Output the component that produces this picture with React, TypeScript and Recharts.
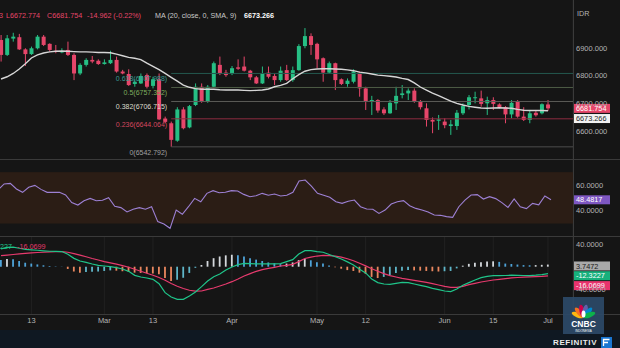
import React from "react";
import {
  ComposedChart,
  Bar,
  Line,
  XAxis,
  YAxis,
  CartesianGrid,
  ReferenceLine,
  ReferenceArea,
  Cell,
} from "recharts";

// daily candles, early Feb -> early Jul
const OPEN = [
  6929, 6875, 6934, 6939, 6895, 6878, 6899, 6941, 6915, 6890, 6884, 6893, 6875, 6808, 6839, 6857,
  6854, 6842, 6845, 6857, 6815, 6806, 6770, 6772, 6802, 6763, 6787, 6645, 6628, 6565, 6678, 6613,
  6694, 6760, 6706, 6760, 6839, 6811, 6806, 6830, 6833, 6818, 6794, 6772, 6811, 6799, 6784, 6820,
  6784, 6820, 6907, 6943, 6915, 6863, 6811, 6845, 6787, 6770, 6778, 6811, 6754, 6706, 6712, 6678,
  6664, 6700, 6730, 6736, 6746, 6706, 6682, 6640, 6637, 6634, 6618, 6618, 6664, 6694, 6719, 6718,
  6700, 6712, 6696, 6686, 6660, 6706, 6652, 6640, 6666, 6664, 6696,
];
const HIGH = [
  6947, 6947, 6955, 6951, 6899, 6905, 6947, 6947, 6917, 6911, 6899, 6923, 6881, 6845, 6863, 6871,
  6859, 6859, 6890, 6869, 6821, 6823, 6787, 6808, 6808, 6796, 6808, 6652, 6634, 6686, 6686, 6694,
  6772, 6772, 6766, 6851, 6869, 6821, 6835, 6859, 6869, 6821, 6799, 6833, 6833, 6808, 6833, 6839,
  6833, 6914, 6972, 6953, 6919, 6866, 6851, 6847, 6790, 6790, 6823, 6815, 6760, 6727, 6715, 6686,
  6712, 6760, 6766, 6754, 6754, 6712, 6700, 6649, 6658, 6646, 6640, 6676, 6700, 6730, 6742, 6746,
  6724, 6722, 6700, 6690, 6712, 6712, 6686, 6676, 6676, 6700, 6711.973,
];
const LOW = [
  6851, 6871, 6923, 6893, 6835, 6875, 6895, 6907, 6887, 6881, 6881, 6871, 6784, 6802, 6833, 6845,
  6839, 6840, 6842, 6811, 6805, 6763, 6760, 6770, 6754, 6754, 6640, 6628, 6542.792, 6561, 6606, 6610,
  6690, 6702, 6702, 6757, 6802, 6796, 6802, 6821, 6815, 6784, 6770, 6770, 6790, 6766, 6778, 6781,
  6778, 6818, 6899, 6875, 6827, 6778, 6806, 6748, 6766, 6760, 6772, 6724, 6676, 6658, 6666, 6658,
  6662, 6676, 6718, 6712, 6702, 6678, 6616, 6592, 6604, 6610, 6586, 6604, 6658, 6678, 6700, 6688,
  6658, 6676, 6682, 6628, 6646, 6648, 6636, 6628, 6652, 6660, 6672.774,
];
const CLOSE = [
  6875, 6935, 6941, 6895, 6878, 6899, 6941, 6911, 6893, 6888, 6889, 6875, 6808, 6839, 6857, 6851,
  6842, 6848, 6857, 6815, 6808, 6766, 6778, 6799, 6760, 6787, 6642, 6633, 6568, 6678, 6610, 6690,
  6760, 6706, 6760, 6845, 6806, 6802, 6827, 6825, 6818, 6794, 6772, 6808, 6796, 6784, 6818, 6784,
  6820, 6907, 6943, 6911, 6859, 6811, 6845, 6784, 6770, 6782, 6815, 6754, 6706, 6712, 6674, 6664,
  6702, 6727, 6736, 6746, 6706, 6686, 6640, 6634, 6642, 6621, 6624, 6666, 6690, 6722, 6722, 6698,
  6712, 6698, 6686, 6660, 6702, 6652, 6640, 6664, 6657, 6696.716, 6681.754,
];
const MA20 = [
  6788, 6796, 6808, 6824, 6843, 6864, 6875, 6882, 6886, 6888, 6889, 6888, 6887, 6886, 6886, 6885,
  6884, 6884, 6883, 6878, 6872, 6866, 6863, 6858, 6845, 6834, 6822, 6808, 6794, 6780, 6766, 6758,
  6753, 6751, 6751, 6751, 6749, 6748, 6748, 6748, 6747, 6746, 6747, 6748, 6752, 6760, 6765, 6772,
  6789, 6804, 6816, 6822, 6824, 6825, 6825, 6824, 6823, 6821, 6818, 6813, 6810, 6806, 6802, 6800,
  6798, 6795, 6790, 6786, 6774, 6759, 6748, 6737, 6728, 6718, 6708, 6700, 6694, 6689, 6686, 6683,
  6682, 6683, 6684, 6683, 6682, 6678, 6675, 6674, 6674, 6674, 6673.266,
];
const RSI14 = [
  56.1, 60.8, 61.3, 56.9, 54.3, 58.2, 59.7, 56.6, 54.3, 54.3, 54.3, 52.2, 46.3, 44.4, 47.8, 49.6,
  47.8, 48.1, 50.1, 43.4, 42.4, 39.0, 41.1, 42.4, 41.1, 43.1, 31.5, 29.6, 26.3, 40.5, 37.2, 43.1,
  49.6, 47.0, 53.5, 55.6, 54.0, 54.3, 55.6, 55.3, 52.7, 50.9, 51.7, 53.5, 52.0, 53.0, 51.4, 52.0,
  54.3, 63.1, 63.9, 59.2, 53.5, 52.0, 50.4, 47.0, 45.7, 47.3, 48.3, 43.1, 41.3, 41.1, 37.9, 40.5,
  45.2, 47.0, 47.8, 43.9, 41.8, 40.5, 39.0, 36.6, 36.4, 35.4, 34.8, 43.1, 48.3, 52.2, 52.5, 49.1,
  50.9, 49.4, 46.3, 42.6, 49.1, 43.1, 41.6, 45.7, 44.6, 51.4, 48.4817,
];
const MACD = [
  31.5, 34.0, 34.5, 32.5, 30.5, 29.8, 29.0, 28.0, 27.2, 26.9, 26.7, 21.8, 14.7, 10.0, 7.7, 4.8,
  2.4, 1.2, 0.0, -1.7, -4.1, -8.2, -15.2, -18.1, -19.9, -22.3, -29.9, -45.8, -53.4, -57.5, -57.5, -51.6,
  -44.6, -35.2, -25.2, -17.6, -12.9, -5.8, -0.5, 3.6, 5.9, 5.3, 4.8, 4.8, 4.8, 4.8, 5.3, 8.9,
  12.4, 22.4, 28.3, 28.3, 26.5, 25.5, 21.5, 17.5, 13.5, 8.5, 3.0, -4.5, -11.0, -21.5, -28.0, -30.5,
  -31.1, -29.3, -27.5, -28.1, -30.5, -32.8, -35.2, -38.1, -40.5, -42.8, -44.0, -39.3, -32.8, -28.1, -23.4, -19.3,
  -17.0, -15.8, -15.8, -15.5, -15.0, -15.2, -15.5, -15.8, -15.0, -13.8, -12.3227,
];
const SIGNAL = [
  19.5, 20.5, 21.5, 22.5, 23.5, 24.3, 25.0, 25.5, 26.0, 26.3, 26.4, 25.5, 23.0, 20.5, 17.5, 14.5,
  11.8, 9.0, 6.8, 4.5, 2.0, -1.0, -4.5, -8.0, -11.5, -15.0, -19.0, -24.0, -29.5, -34.5, -38.5, -41.5,
  -43.0, -42.8, -39.9, -37.5, -34.0, -30.5, -26.4, -21.7, -16.4, -12.3, -8.2, -5.2, -2.9, -1.1, 1.2, 2.4,
  4.2, 8.9, 14.5, 17.0, 18.8, 20.0, 19.5, 18.5, 17.0, 14.0, 10.5, 6.0, 1.5, -3.5, -8.0, -12.3,
  -15.8, -18.2, -20.5, -22.3, -24.0, -25.8, -27.5, -29.9, -32.2, -34.6, -36.4, -36.4, -34.6, -31.7, -29.3, -27.0,
  -25.2, -23.4, -22.3, -21.0, -19.8, -19.0, -18.3, -18.0, -17.6, -17.0, -16.0699,
];
const HIST = [
  12, 13.5, 13, 10, 7, 5.5, 4, 2.5, 1.2, 0.6, 0.3, -4, -8.5, -10.5, -9.5, -9,
  -8.5, -7.5, -6.5, -7, -8, -9, -10.5, -11, -11.5, -12, -13.5, -20, -25, -23, -19.5, -11,
  -2, 3, 10, 15, 18, 20, 21, 20, 18, 15, 12.5, 10, 7.5, 6, 4.5, 5.5,
  7.5, 11.5, 13.8, 11.3, 7.7, 5.5, 2.0, -1.0, -3.5, -6.0, -7.5, -10.5, -12.5, -18.0, -20.0, -18,
  -15, -11, -7, -6, -6.5, -7, -7.5, -8, -8.5, -8, -7.5, -3, 1.8, 5, 7, 8,
  9, 9.5, 8.5, 5.5, 4.8, 3.8, 2.8, 2.5, 2.8, 3.3, 3.7472,
];

const TICK_IDX = [5, 17, 25, 38, 52, 60, 73, 81, 90];
const TICK_LABELS = ["13", "Mar", "13", "Apr", "May", "12", "Jun", "15", "Jul"];

const FIB_RATIOS = ["0.618", "0.5", "0.382", "0.236", "0"];
const FIB_PRICES = [6807.988, 6757.352, 6706.715, 6644.064, 6542.792];
const FIB_START = 28;

// styles
const FONT = "'Liberation Sans', Arial, sans-serif";
const BG = "#151515";
const GRID = "#212121";
const UP = "#26bf84";
const DOWN = "#e6466a";
const AXIS_TXT = "#b4b4b4";
const FIB_LINE = ["#24574e", "#4e5c45", "#5c5c58", "#8e2c40", "#4c4c4c"];
const FIB_TXT = ["#3a9c94", "#7fae5e", "#dcdccc", "#d4475f", "#a0a0a0"];

const W = 622;
const AXIS_W = 47;
const PLOT_R = W - AXIS_W;
const PAD_R = 22;

const rows = CLOSE.map((c, i) => ({
  i,
  o: OPEN[i],
  h: HIGH[i],
  l: LOW[i],
  c,
  ma: MA20[i],
  rsi: RSI14[i],
  macd: MACD[i],
  signal: SIGNAL[i],
  hist: HIST[i],
}));

const Candle = (props: any) => {
  const { x, y, width, height, payload } = props;
  if (!payload) return null;
  const { o, h, l, c } = payload;
  const top = Math.min(y, y + height);
  const bot = Math.max(y, y + height);
  const py = (v: number) => top + ((h - v) / (h - l)) * (bot - top);
  const cx = x + width / 2;
  const col = c >= o ? UP : DOWN;
  const bt = py(Math.max(o, c));
  const bb = py(Math.min(o, c));
  return (
    <g>
      <line x1={cx} x2={cx} y1={top} y2={bot} stroke={col} strokeWidth={1} />
      <rect x={cx - 2} y={bt} width={4} height={Math.max(1, bb - bt)} fill={col} />
    </g>
  );
};

const Tag = ({ viewBox, text, fill, color, dy = 0 }: any) => {
  if (!viewBox) return null;
  const cy = viewBox.y + dy;
  return (
    <g>
      <rect x={PLOT_R} y={cy - 4.5} width={37} height={9} fill={fill} />
      <text x={PLOT_R + 3} y={cy + 2.6} fontSize={7.3} fontFamily={FONT} fill={color}>
        {text}
      </text>
    </g>
  );
};

// full-width line / area out to the price scale
const WideLine = (p: any) => (
  <line x1={p.x1} y1={p.y1} x2={PLOT_R} y2={p.y2} stroke={p.stroke} strokeWidth={1} strokeDasharray={p.strokeDasharray} />
);
const WideArea = (p: any) => <rect x={p.x} y={p.y} width={PLOT_R - p.x} height={p.height} fill={p.fill} />;

const histColor = (i: number) => {
  const h = HIST[i];
  const p = i > 0 ? HIST[i - 1] : h + 1;
  if (h >= 0) return h >= p ? "#d4d8dc" : "#4ea3d8";
  return h <= p ? "#e9875f" : "#5fb6c9";
};

const tickFmt = (v: number) => TICK_LABELS[TICK_IDX.indexOf(v)] ?? "";

const xAxisHidden = (
  <XAxis
    dataKey="i"
    ticks={TICK_IDX}
    interval={0}
    tick={false}
    tickLine={false}
    axisLine={false}
    height={0}
    padding={{ left: 0, right: PAD_R }}
  />
);

const yTick = { fill: AXIS_TXT, fontSize: 7.5, fontFamily: FONT };

export default function App() {
  const last = CLOSE.length - 1;
  const chg = CLOSE[last] - CLOSE[last - 1];
  return (
    <div style={{ position: "absolute", left: 0, top: 0, width: 620, height: 348, background: BG, overflow: "hidden", fontFamily: FONT }}>
      {/* price pane */}
      <div style={{ position: "absolute", left: -2, top: 0 }}>
        <ComposedChart width={W} height={160} data={rows} margin={{ top: 0, right: 0, bottom: 0, left: 0 }}>
          <CartesianGrid vertical horizontal={false} stroke={GRID} />
          {xAxisHidden}
          <YAxis
            orientation="right"
            width={AXIS_W}
            domain={[6495.2, 7073.5]}
            allowDataOverflow
            ticks={[6600, 6700, 6800, 6900]}
            tickFormatter={(v: number) => v.toFixed(3)}
            tick={yTick}
            tickLine={false}
            axisLine={false}
            tickSize={1}
            tickMargin={2}
          />
          {FIB_PRICES.map((p, k) => (
            <ReferenceLine
              key={k}
              segment={[{ x: FIB_START, y: p }, { x: last, y: p }]}
              stroke={FIB_LINE[k]}
              shape={WideLine}
              label={(lp: any) =>
                lp.viewBox ? (
                  <text x={lp.viewBox.x - 4} y={lp.viewBox.y + 8} textAnchor="end" fontSize={7} fontFamily={FONT} fill={FIB_TXT[k]}>
                    {`${FIB_RATIOS[k]}(${p.toFixed(3)})`}
                  </text>
                ) : null
              }
            />
          ))}
          <Bar dataKey={(d: any) => [d.l, d.h]} shape={<Candle />} isAnimationActive={false} />
          <Line dataKey="ma" type="linear" stroke="#d6d6d6" strokeWidth={1.4} dot={false} activeDot={false} isAnimationActive={false} />
          <ReferenceLine
            y={CLOSE[last]}
            stroke="none"
            label={(lp: any) => <Tag viewBox={lp.viewBox} text={CLOSE[last].toFixed(3)} fill={DOWN} color="#ffffff" />}
          />
          <ReferenceLine
            y={MA20[last]}
            stroke="none"
            label={(lp: any) => <Tag viewBox={lp.viewBox} text={MA20[last].toFixed(3)} fill="#f2f2f2" color="#1e1e1e" dy={7.8} />}
          />
        </ComposedChart>
      </div>

      {/* RSI pane */}
      <div style={{ position: "absolute", left: -2, top: 160 }}>
        <ComposedChart width={W} height={76} data={rows} margin={{ top: 0, right: 0, bottom: 0, left: 0 }}>
          <CartesianGrid vertical horizontal={false} stroke={GRID} />
          {xAxisHidden}
          <YAxis
            orientation="right"
            width={AXIS_W}
            domain={[20.31, 79.46]}
            allowDataOverflow
            ticks={[40, 60]}
            tickFormatter={(v: number) => v.toFixed(4)}
            tick={yTick}
            tickLine={false}
            axisLine={false}
            tickSize={1}
            tickMargin={2}
          />
          <ReferenceArea y1={30} y2={70} fill="#2b1d15" fillOpacity={0.95} stroke="none" shape={WideArea} />
          <ReferenceLine y={70} stroke="#6a5545" strokeDasharray="2 2" shape={WideLine} />
          <ReferenceLine y={30} stroke="#6a5545" strokeDasharray="2 2" shape={WideLine} />
          <Line dataKey="rsi" type="linear" stroke="#9d80d4" strokeWidth={1.1} dot={false} activeDot={false} isAnimationActive={false} />
          <ReferenceLine
            y={RSI14[last]}
            stroke="none"
            label={(lp: any) => <Tag viewBox={lp.viewBox} text={RSI14[last].toFixed(4)} fill="#7e57c2" color="#ffffff" />}
          />
        </ComposedChart>
      </div>

      {/* MACD pane + time axis */}
      <div style={{ position: "absolute", left: -2, top: 237 }}>
        <ComposedChart width={W} height={93} data={rows} margin={{ top: 0, right: 0, bottom: 0, left: 0 }}>
          <CartesianGrid vertical horizontal={false} stroke={GRID} />
          <XAxis
            dataKey="i"
            ticks={TICK_IDX}
            interval={0}
            tickFormatter={tickFmt}
            tick={{ fill: AXIS_TXT, fontSize: 7.5, fontFamily: FONT }}
            tickLine={false}
            axisLine={false}
            tickSize={1}
            tickMargin={3}
            height={16}
            padding={{ left: 0, right: PAD_R }}
          />
          <YAxis
            orientation="right"
            width={AXIS_W}
            domain={[-83.35, 52.33]}
            allowDataOverflow
            ticks={[-40, 40]}
            tickFormatter={(v: number) => v.toFixed(4)}
            tick={yTick}
            tickLine={false}
            axisLine={false}
            tickSize={1}
            tickMargin={2}
          />
          <Bar dataKey="hist" barSize={1.8} isAnimationActive={false}>
            {rows.map((r, k) => (
              <Cell key={k} fill={histColor(k)} />
            ))}
          </Bar>
          <Line dataKey="signal" type="linear" stroke="#e63a6d" strokeWidth={1.2} dot={false} activeDot={false} isAnimationActive={false} />
          <Line dataKey="macd" type="linear" stroke="#1fc489" strokeWidth={1.2} dot={false} activeDot={false} isAnimationActive={false} />
          <ReferenceLine
            y={HIST[last]}
            stroke="none"
            label={(lp: any) => <Tag viewBox={lp.viewBox} text={HIST[last].toFixed(4)} fill="#a9a9a9" color="#1a1a1a" dy={1.4} />}
          />
          <ReferenceLine
            y={MACD[last]}
            stroke="none"
            label={(lp: any) => <Tag viewBox={lp.viewBox} text={MACD[last].toFixed(4)} fill="#17b07c" color="#ffffff" dy={2} />}
          />
          <ReferenceLine
            y={SIGNAL[last]}
            stroke="none"
            label={(lp: any) => <Tag viewBox={lp.viewBox} text={SIGNAL[last].toFixed(4)} fill="#e8336d" color="#ffffff" dy={9.8} />}
          />
        </ComposedChart>
      </div>

      {/* pane borders */}
      <div style={{ position: "absolute", left: 0, top: 159, width: 620, height: 1, background: "#3a3a3a" }} />
      <div style={{ position: "absolute", left: 0, top: 236, width: 620, height: 1, background: "#3a3a3a" }} />
      <div style={{ position: "absolute", left: 0, top: 314, width: 620, height: 1, background: "#3a3a3a" }} />
      <div style={{ position: "absolute", left: 573, top: 0, width: 1, height: 330, background: "#3a3a3a" }} />
      <div style={{ position: "absolute", left: 0, top: 330, width: 620, height: 18, background: "#0f1822" }} />

      {/* legends, watermark */}
      <svg width={620} height={348} style={{ position: "absolute", left: 0, top: 0, pointerEvents: "none" }}>
        <g fontFamily={FONT} fontSize={7.2}>
          <text x={3} y={17.5} textAnchor="end" fill={DOWN}>{`H${HIGH[last].toFixed(3)}`}</text>
          <text x={6} y={17.5} fill={DOWN}>{`L${LOW[last].toFixed(3)}`}</text>
          <text x={47} y={17.5} fill={DOWN}>{`C${CLOSE[last].toFixed(3)}`}</text>
          <text x={87} y={17.5} fill={DOWN}>{`${chg.toFixed(3)} (${((chg / CLOSE[last - 1]) * 100).toFixed(2)}%)`}</text>
          <text x={155} y={17.5} fill="#c9c9c9">MA (20, close, 0, SMA, 9)</text>
          <text x={244} y={17.5} fill="#ffffff" fontWeight="bold">{MA20[last].toFixed(3)}</text>
          <text x={577} y={15.5} fill={AXIS_TXT}>IDR</text>
          <text x={12} y={248.5} textAnchor="end" fill="#1fc489">{MACD[last].toFixed(4)}</text>
          <text x={17} y={248.5} fill="#e63a6d">{SIGNAL[last].toFixed(4)}</text>
        </g>
        <g>
          <rect x={563} y={297} width={41} height={37} fill="#2c4a68" opacity={0.92} />
          {["#fcb711", "#f37021", "#cc004c", "#6460aa", "#0089d0", "#0db14b"].map((c, k) => (
            <ellipse
              key={k}
              cx={583.5}
              cy={311}
              rx={2.6}
              ry={6.5}
              fill={c}
              transform={`rotate(${-70 + k * 28} 583.5 317)`}
            />
          ))}
          <ellipse cx={583.5} cy={314} rx={2} ry={3.5} fill="#ffffff" />
          <text x={583.5} y={327} textAnchor="middle" fontFamily={FONT} fontWeight="bold" fontSize={8.5} fill="#ffffff">CNBC</text>
          <text x={583.5} y={331.5} textAnchor="middle" fontFamily={FONT} fontSize={3} fill="#ffffff">INDONESIA</text>
        </g>
        <text x={553} y={345} fontFamily={FONT} fontWeight="bold" fontSize={8} letterSpacing={0.6} fill="#ececec">REFINITIV</text>
        <rect x={601} y={337} width={11} height={11} fill="#1976d2" />
        <path d="M603.5 346 L603.5 339.5 L609.5 339.5 M603.5 342.5 L608 342.5" stroke="#ffffff" strokeWidth={1.3} fill="none" />
      </svg>
    </div>
  );
}
